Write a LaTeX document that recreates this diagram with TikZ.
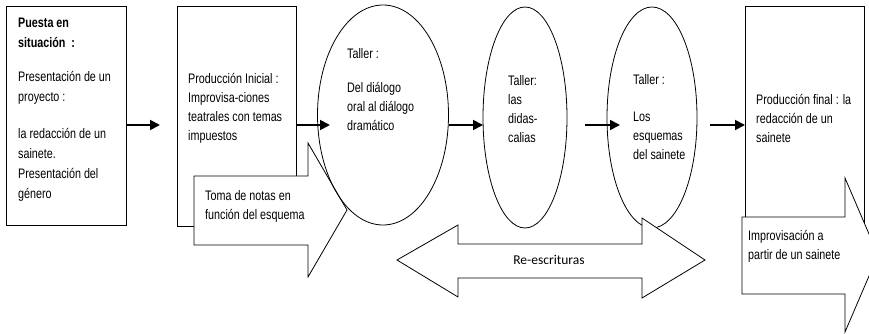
\documentclass[tikz,border=0pt]{standalone}
\usepackage{fontspec}
\setmainfont[FakeStretch=0.78]{Liberation Sans}
\newfontfamily\calib{Carlito}
\usetikzlibrary{arrows.meta,shapes.geometric}
\newcommand{\lns}[1]{\begin{tabular}[t]{@{}l@{}}#1\end{tabular}}
\begin{document}
\begin{tikzpicture}[x=1pt,y=-1pt,
  shp/.style={draw=black,line width=0.8pt},
  boxn/.style={shp,rectangle,inner sep=0pt,anchor=north west},
  elln/.style={shp,ellipse,inner sep=0pt},
  conn/.style={line width=1.8pt,-{Triangle[length=10pt,width=10pt]}},
  txt/.style={anchor=base west,inner sep=0pt,font=\fontsize{13.8}{19}\selectfont}]
\useasboundingbox (0,0) rectangle (869,334);
\clip (0,0) rectangle (869,334);
% boxes
\node[boxn,minimum width=120pt,minimum height=219pt] (box1) at (6,6) {};
\node[boxn,minimum width=119pt,minimum height=220pt] (box2) at (177,6) {};
% callout 1
\draw[shp,fill=white] (194,176) -- (308,176) -- (308,143) -- (347,210) -- (308,277) -- (308,245) -- (194,245) -- cycle;
% ellipses
\node[elln,minimum width=131pt,minimum height=220pt] (ell1) at (383,115) {};
\node[elln,minimum width=84pt,minimum height=221pt] (ell2) at (525,117.5) {};
\node[elln,minimum width=90pt,minimum height=221pt] (ell3) at (652,117.5) {};
% final box
\node[boxn,minimum width=119pt,minimum height=222pt] (box3) at (745,6) {};
% callout 2
\draw[shp,fill=white] (742,217) -- (845,217) -- (845,178) -- (878,255) -- (845,332) -- (845,294) -- (742,294) -- cycle;
% double arrow
\draw[shp,fill=white] (397,260) -- (458,225) -- (458,244) -- (642,244) -- (642,218) -- (705,260) -- (642,298) -- (642,278) -- (458,278) -- (458,297) -- cycle;
% connectors
\coordinate (a1s) at (126,125); \coordinate (a1e) at (160,125);
\coordinate (a2s) at (296,125); \coordinate (a2e) at (330,125);
\coordinate (a3s) at (449,125); \coordinate (a3e) at (483,125);
\coordinate (a4s) at (585,125); \coordinate (a4e) at (620,125);
\coordinate (a5s) at (710,125); \coordinate (a5e) at (745,125);
\draw[conn] (a1s) -- (a1e);
\draw[conn] (a2s) -- (a2e);
\draw[conn] (a3s) -- (a3e);
\draw[conn] (a4s) -- (a4e);
\draw[conn] (a5s) -- (a5e);
% texts
\node[txt,font=\fontsize{13.8}{20}\selectfont] (t1) at (18,28) {\lns{\textbf{Puesta en}\\\textbf{situación~ :}\\[14pt]Presentación de un\\proyecto :\\[17pt]la redacción de un\\sainete.\\Presentación del\\género}};
\node[txt] (t2) at (188,84) {\lns{Producción Inicial :\\Improvisa-ciones\\teatrales con temas\\impuestos}};
\node[txt] (t3) at (347,59) {\lns{Taller :\\[15pt]Del diálogo\\oral al diálogo\\dramático}};
\node[txt] (t4) at (508,86) {\lns{Taller:\\las\\didas-\\calias}};
\node[txt] (t5) at (633,85) {\lns{Taller :\\[17pt]Los\\esquemas\\del sainete}};
\node[txt] (t6) at (756,105) {\lns{Producción final : la\\redacción de un\\sainete}};
\node[txt] (t7) at (205,200) {\lns{Toma de notas en\\función del esquema}};
\node[txt] (t8) at (748,240) {\lns{Improvisación a\\partir de un sainete}};
\node[inner sep=0pt,font=\calib\fontsize{13.5}{16}\selectfont] (t9) at (549,260) {Re-escrituras};
\end{tikzpicture}
\end{document}
